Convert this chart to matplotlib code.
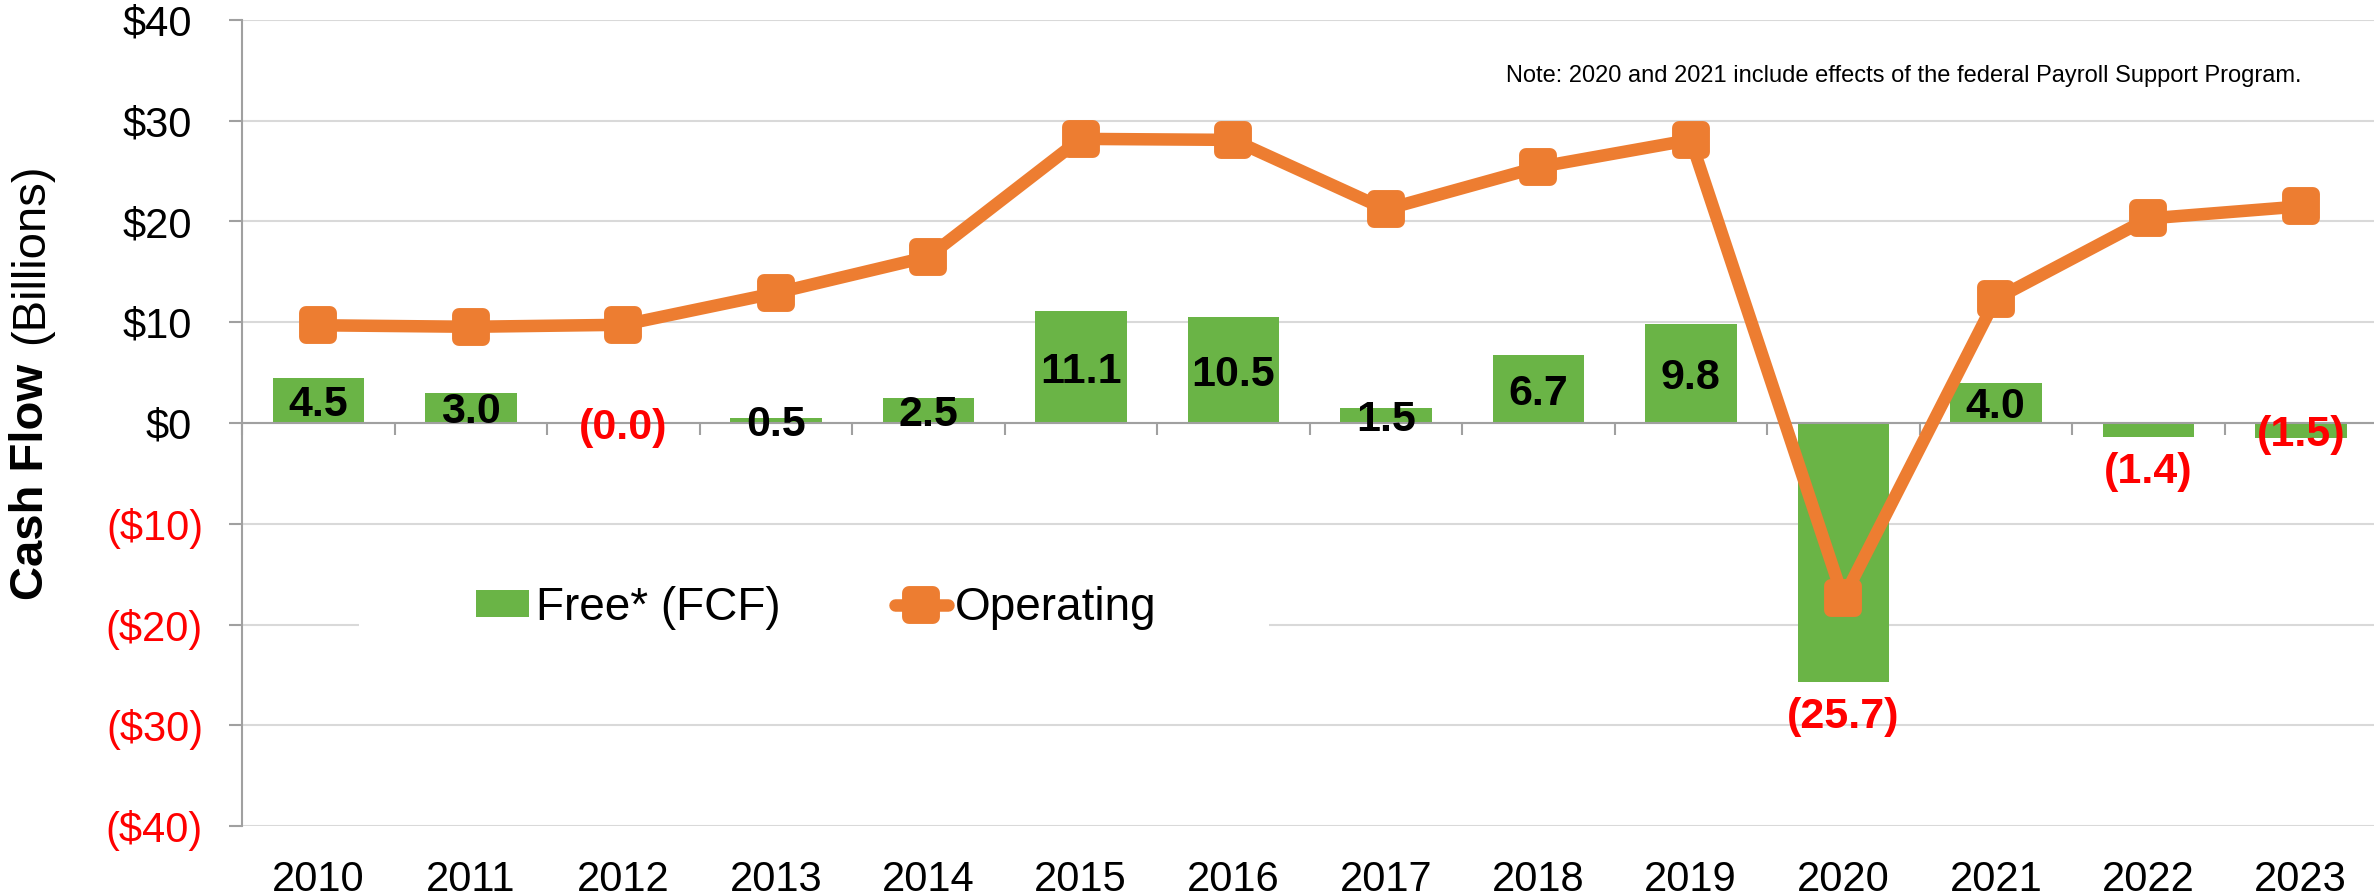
import matplotlib
matplotlib.use("Agg")
import matplotlib.pyplot as plt
from matplotlib.markers import MarkerStyle
from matplotlib.lines import Line2D
from matplotlib.patches import Patch, Rectangle
import numpy as np

plt.rcParams['font.family'] = ['Liberation Sans', 'DejaVu Sans']

# ---- data (billions of dollars) ----
years = ['2010', '2011', '2012', '2013', '2014', '2015', '2016',
         '2017', '2018', '2019', '2020', '2021', '2022', '2023']
free_cash_flow = [4.5, 3.0, -0.04, 0.5, 2.5, 11.1, 10.5,
                  1.5, 6.7, 9.8, -25.7, 4.0, -1.4, -1.5]
operating_cash_flow = [9.7, 9.55, 9.75, 12.9, 16.5, 28.2, 28.1,
                       21.2, 25.4, 28.1, -17.4, 12.3, 20.3, 21.5]
label_place = ['center', 'center', 'center', 'center', 'center', 'center', 'center',
               'center', 'center', 'center', 'below', 'center', 'below', 'center']
y_ticks = [40, 30, 20, 10, 0, -10, -20, -30, -40]
note = "Note: 2020 and 2021 include effects of the federal Payroll Support Program."

GREEN = '#6AB446'
ORANGE = '#ED7D31'
RED = '#FF0000'
AXIS_GRAY = '#A0A0A0'
GRID_GRAY = '#D9D9D9'

W, H = 2374, 896
fig = plt.figure(figsize=(W / 100, H / 100), dpi=100)
ax = fig.add_axes([242 / W, 1 - 826 / H, 2135 / W, 806 / H])

x = np.arange(len(years))

# bars
ax.bar(x, free_cash_flow, width=0.6, color=GREEN, zorder=2)

# operating cash flow line with rounded square markers
mk = MarkerStyle('s', joinstyle='round')
ax.plot(x, operating_cash_flow, color=ORANGE, lw=9, marker=mk, markersize=17,
        markeredgewidth=10, markerfacecolor=ORANGE, markeredgecolor=ORANGE,
        solid_capstyle='round', solid_joinstyle='round', zorder=4)

# axes limits and grid
ax.set_xlim(-0.5, len(years) - 0.5)
ax.set_ylim(-40, 40)
ax.set_yticks(y_ticks)
ax.set_yticklabels([])
ax.yaxis.grid(True, color=GRID_GRAY, lw=1.5, zorder=0)
ax.set_axisbelow(True)

for side in ('top', 'right'):
    ax.spines[side].set_visible(False)
ax.spines['left'].set_color(AXIS_GRAY)
ax.spines['left'].set_linewidth(1.5)
ax.spines['bottom'].set_position(('data', 0))
ax.spines['bottom'].set_color(AXIS_GRAY)
ax.spines['bottom'].set_linewidth(1.5)
ax.spines['bottom'].set_zorder(3)

ax.tick_params(axis='y', direction='out', length=9.4, width=1.5, color=AXIS_GRAY)
ax.set_xticks(np.arange(-0.5, len(years), 1.0))
ax.set_xticklabels([])
ax.tick_params(axis='x', direction='out', length=8.6, width=1.5, color=AXIS_GRAY)

# y tick labels: accounting style, negatives in parentheses and red
ytrans = ax.get_yaxis_transform()
for v in y_ticks:
    if v < 0:
        txt, col, off = f"(${abs(v)})", RED, -28
    else:
        txt, col, off = f"${v}", 'black', -36
    ax.annotate(txt, xy=(0, v), xycoords=ytrans, xytext=(off, 0),
                textcoords='offset points', ha='right', va='center_baseline',
                fontsize=30, color=col, annotation_clip=False)

# category labels along the bottom
xtrans = ax.get_xaxis_transform()
for i, yr in enumerate(years):
    ax.annotate(yr, xy=(i, 0), xycoords=xtrans, xytext=(0, -24.5),
                textcoords='offset points', ha='center', va='top',
                fontsize=30, annotation_clip=False)

# bar value labels
for i, (v, place) in enumerate(zip(free_cash_flow, label_place)):
    if v < 0:
        txt, col = f"({abs(v):.1f})", RED
    else:
        txt, col = f"{v:.1f}", 'black'
    if place == 'center':
        ax.annotate(txt, xy=(i, v / 2), ha='center', va='center_baseline',
                    fontsize=31, fontweight='bold', color=col, zorder=5)
    else:
        ax.annotate(txt, xy=(i, v), xytext=(0, -11), textcoords='offset points',
                    ha='center', va='top', fontsize=31, fontweight='bold',
                    color=col, zorder=5)

# y axis title: bold "Cash Flow" followed by regular "(Billions)"
fig.text(43 / W, 1 - 600 / H, "Cash Flow", rotation=90, rotation_mode='anchor',
         ha='left', va='baseline', fontsize=34, fontweight='bold')
fig.text(43 / W, 1 - 163 / H, "(Billions)", rotation=90, rotation_mode='anchor',
         ha='right', va='baseline', fontsize=34)

# note
fig.text(2301 / W, 1 - 82 / H, note, ha='right', va='baseline', fontsize=17)

# legend on a white panel
ax.add_patch(Rectangle((117 / 2135, 181 / 806), 910 / 2135, 70 / 806,
                       transform=ax.transAxes, facecolor='white',
                       edgecolor='none', zorder=1))
handles = [Patch(facecolor=GREEN, edgecolor='none'),
           Line2D([], [], color=ORANGE, lw=9, marker=mk, markersize=17,
                  markeredgewidth=10, markerfacecolor=ORANGE,
                  markeredgecolor=ORANGE, solid_capstyle='round')]
leg = ax.legend(handles, ['Free* (FCF)', 'Operating'], ncol=2, frameon=False,
                loc='center', bbox_to_anchor=(816 / W, 1 - 608 / H),
                bbox_transform=fig.transFigure, fontsize=33,
                handlelength=1.15, handleheight=0.52, handletextpad=0.15,
                columnspacing=2.5, borderpad=0.2)
leg.set_zorder(6)

fig.savefig('out.png', dpi=100)
